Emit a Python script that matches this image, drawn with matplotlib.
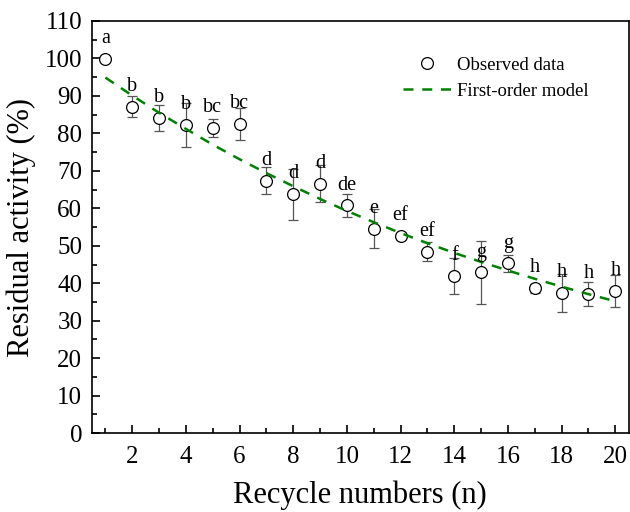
import numpy as np
import matplotlib
matplotlib.use('Agg')
import matplotlib.pyplot as plt
from matplotlib.ticker import MultipleLocator

# observed residual activity (mean, sd) for each recycle
cycles = [1, 2, 3, 4, 5, 6, 7, 8, 9, 10, 11, 12, 13, 14, 15, 16, 17, 18, 19, 20]
activity = [99.8, 87.1, 84.1, 82.3, 81.5, 82.5, 67.4, 63.8, 66.6, 60.8,
            54.6, 52.6, 48.4, 42.0, 42.9, 45.3, 38.7, 37.5, 37.2, 38.0]
sd = [0.0, 2.8, 3.5, 5.8, 2.4, 4.2, 3.5, 6.8, 4.9, 3.1,
      5.3, 0.8, 2.5, 4.8, 8.3, 2.2, 1.2, 5.1, 3.2, 4.3]
letters = ['a', 'b', 'b', 'b', 'bc', 'bc', 'd', 'd', 'd', 'de',
           'e', 'ef', 'ef', 'f', 'g', 'g', 'h', 'h', 'h', 'h']

# first-order model curve
model = [94.9, 90.1, 85.5, 81.2, 77.0, 73.1, 69.4, 65.9, 62.5, 59.3,
         56.3, 53.4, 50.7, 48.1, 45.7, 43.4, 41.2, 39.1, 37.1, 35.2]

plt.rcParams['font.family'] = ['Liberation Serif', 'DejaVu Serif']

fig = plt.figure(figsize=(6.3, 5.12), dpi=100)
ax = fig.add_axes([0.146, 0.154, 0.852, 0.805])

ax.errorbar(cycles, activity, yerr=sd, fmt='none', ecolor='#555555',
            elinewidth=0.9, capsize=3.5, capthick=0.9, zorder=2)
ax.plot(cycles, activity, 'o', mfc='white', mec='black', mew=0.9,
        ms=8.5, label='Observed data', zorder=3)
ax.plot(cycles, model, '--', color='#008000', lw=1.8, dashes=(4, 3.5),
        label='First-order model', zorder=4)

for x, y, t in zip(cycles, activity, letters):
    ax.text(x, y + 5.4, t, ha='center', va='center', fontsize=14.5, zorder=5)

ax.set_xlim(0.5, 20.5)
ax.set_ylim(0, 110)
ax.xaxis.set_major_locator(MultipleLocator(2))
ax.xaxis.set_minor_locator(MultipleLocator(1))
ax.yaxis.set_major_locator(MultipleLocator(10))
ax.yaxis.set_minor_locator(MultipleLocator(5))
ax.tick_params(which='both', direction='in', labelsize=18, width=1.2)
ax.tick_params(which='major', length=6, pad=7)
ax.tick_params(which='minor', length=3.5)
ax.tick_params(axis='x', which='major', pad=9)
for s in ax.spines.values():
    s.set_linewidth(1.2)

ax.set_xlabel('Recycle numbers (n)', fontsize=22, labelpad=9)
ax.set_ylabel('Residual activity (%)', fontsize=22, labelpad=6)

ax.legend(loc='upper right', bbox_to_anchor=(0.957, 0.955), frameon=False,
          fontsize=13.5, handlelength=2.6, handletextpad=0.3)

fig.savefig('out.png', dpi=100)
